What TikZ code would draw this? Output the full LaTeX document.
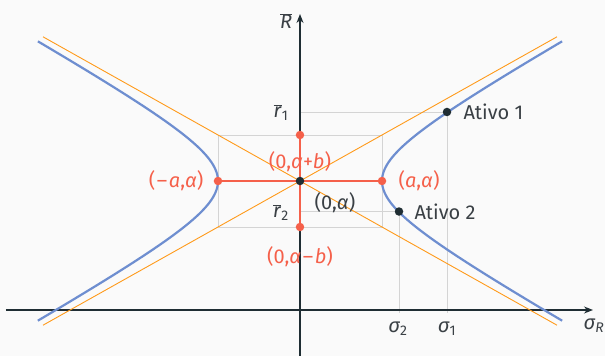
\documentclass[tikz,border=0pt]{standalone}
\usepackage{fontspec}
\setmainfont{Fira Sans}
\usetikzlibrary{arrows.meta}

\definecolor{fundo}{HTML}{FAFAFA}
\definecolor{eixo}{HTML}{1F2D33}
\definecolor{texto}{HTML}{3A4045}
\definecolor{curva}{HTML}{6E8ED0}
\definecolor{assint}{HTML}{FF9A1A}
\definecolor{verm}{HTML}{F5604A}
\definecolor{grade}{HTML}{D4D4D4}

% letras em itálico (estilo matemático)
\newcommand{\vi}[1]{\textit{#1}}
\newcommand{\barra}[1]{$\overline{\mbox{\vi{#1}}}$}
\newcommand{\menos}{\kern0.08em–\kern0.08em}

\tikzset{
  guia/.style={draw=grade, line width=0.8pt},
  ponto/.style={circle, fill=#1, inner sep=0pt, minimum size=8.5pt},
  rotulo/.style={text=texto},
  rotverm/.style={text=verm},
}

\begin{document}
\begin{tikzpicture}[x=1pt, y=1pt, >={Stealth[length=9pt, width=7pt]},
    every node/.style={font=\fontsize{20}{24}\selectfont}]
    \fill[fundo] (-300,-175) rectangle (305,181);
    \useasboundingbox (-300,-175) rectangle (305,181);

    % --- 1. Coordenadas ---
    \coordinate (O)  at (0, 0);        % centro (0,alpha)
    \coordinate (Va) at (-82, 0);      % vertice esquerdo
    \coordinate (Vb) at (82, 0);       % vertice direito
    \coordinate (Ca) at (0, 46);       % (0,alpha+b)
    \coordinate (Cb) at (0, -46);      % (0,alpha-b)
    \coordinate (A1) at (147, 69);     % Ativo 1
    \coordinate (A2) at (99, -30.5);   % Ativo 2

    % eixos
    \coordinate (Xi) at (-294, -129);
    \coordinate (Xf) at (293, -129);
    \coordinate (Yi) at (0, -175);
    \coordinate (Yf) at (0, 167);

    % pes das linhas guia
    \coordinate (R1) at (0, 69);
    \coordinate (R2) at (0, -30.5);
    \coordinate (S1) at (147, -132);
    \coordinate (S2) at (99, -132);

    % extremos das assintotas
    \coordinate (Ta) at (-257, 144.2);
    \coordinate (Tb) at (257, -144.2);
    \coordinate (Tc) at (-257, -144.2);
    \coordinate (Td) at (257, 144.2);

    % --- 2. Linhas guia ---
    \draw[guia] (-82,-46) rectangle (82,46);
    \draw[guia] (R1) -- (A1) -- (S1);
    \draw[guia] (R2) -- (A2) -- (S2);

    % --- 3. Eixos ---
    \draw[eixo, line width=1.3pt, ->] (Xi) -- (Xf);
    \draw[eixo, line width=1.3pt, ->] (Yi) -- (Yf);

    % --- 4. Assintotas e hiperbole ---
    \draw[assint, line width=0.9pt] (Ta) -- (Tb);
    \draw[assint, line width=0.9pt] (Tc) -- (Td);
    \draw[curva, line width=2.2pt, domain=-1.83:1.83, samples=80]
      plot ({82*cosh(\x)}, {46*sinh(\x)});
    \draw[curva, line width=2.2pt, domain=-1.83:1.83, samples=80]
      plot ({-82*cosh(\x)}, {46*sinh(\x)});

    % --- 5. Eixos da hiperbole (vermelho) ---
    \draw[verm, line width=2.2pt] (Va) -- (Vb);
    \draw[verm, line width=2.2pt] (Ca) -- (Cb);
    \node[ponto=verm] (pVa) at (Va) {};
    \node[ponto=verm] (pVb) at (Vb) {};
    \node[ponto=verm] (pCa) at (Ca) {};
    \node[ponto=verm] (pCb) at (Cb) {};
    \node[ponto=eixo] (pO) at (O) {};
    \node[ponto=eixo] (pA1) at (A1) {};
    \node[ponto=eixo] (pA2) at (A2) {};

    % --- 6. Rotulos ---
    \node[rotverm, anchor=east] (lVa) at (-93, 0) {(\menos\vi{a},\vi{α})};
    \node[rotverm, anchor=west] (lVb) at (95, 0) {(\vi{a},\vi{α})};
    \node[rotverm] (lCa) at (0, 19) {(0,\vi{α}+\vi{b})};
    \node[rotverm] (lCb) at (0, -76) {(0,\vi{α}\menos\vi{b})};
    \node[rotulo] (lO) at (35, -22) {(0,\vi{α})};

    \node[rotulo, anchor=west] (lA1) at (160, 69) {Ativo 1};
    \node[rotulo, anchor=west] (lA2) at (111, -30.5) {Ativo 2};

    \node[rotulo] (lR1) at (-19, 68) {\barra{r}\textsubscript{1}};
    \node[rotulo] (lR2) at (-19, -32) {\barra{r}\textsubscript{2}};
    \node[rotulo] (lS1) at (147, -148) {\vi{σ}\textsubscript{1}};
    \node[rotulo] (lS2) at (98, -148) {\vi{σ}\textsubscript{2}};
    \node[rotulo] (lSR) at (294, -145) {\vi{σ}\textsubscript{\vi{R}}};
    \node[rotulo] (lRb) at (-14, 160) {\barra{R}};

  \end{tikzpicture}
\end{document}
